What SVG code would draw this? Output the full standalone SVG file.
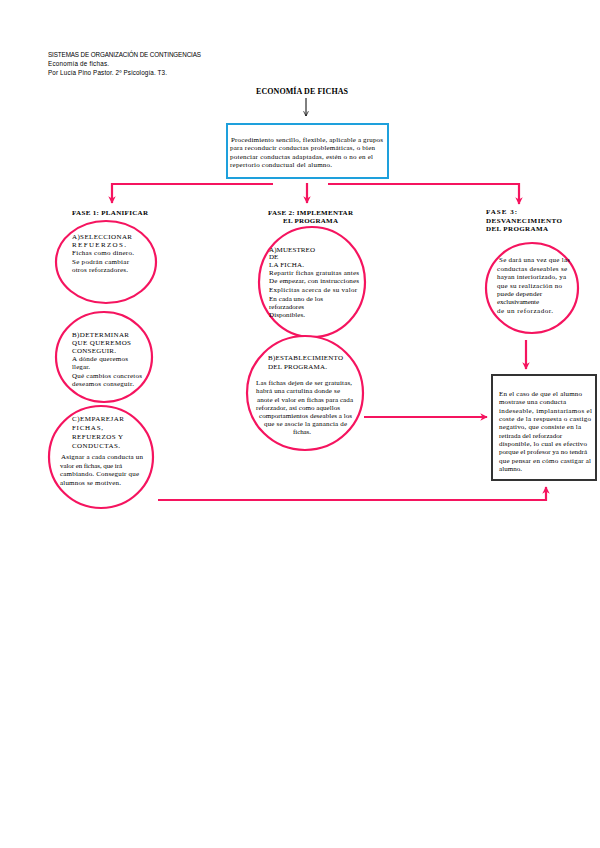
<svg xmlns="http://www.w3.org/2000/svg" width="600" height="848" viewBox="0 0 600 848">
<defs>
<style>
.hdr{font-family:"Liberation Sans","DejaVu Sans",sans-serif;font-size:6.3px;fill:#000}
.ttl{font-family:"Liberation Serif","DejaVu Serif",serif;font-size:8px;font-weight:bold;fill:#000}
.lbl{font-family:"Liberation Serif","DejaVu Serif",serif;font-size:7px;font-weight:bold;fill:#000}
.t{font-family:"Liberation Serif","DejaVu Serif",serif;font-size:7px;fill:#000}
.circ{fill:#fff;stroke:#f5145f;stroke-width:2.2}
.pk{fill:none;stroke:#f5145f;stroke-width:2.2}
</style>
<marker id="ah" viewBox="0 0 10 10" refX="9" refY="5" markerWidth="3.4" markerHeight="3.4" orient="auto" markerUnits="strokeWidth">
<path d="M0,0 L10,5 L0,10 L3,5 Z" fill="#f5145f"/>
</marker>
<marker id="bk" viewBox="0 0 10 10" refX="9" refY="5" markerWidth="6" markerHeight="6" orient="auto" markerUnits="strokeWidth">
<path d="M1,1 L9,5 L1,9" fill="none" stroke="#000" stroke-width="1.2"/>
</marker>
</defs>
<rect width="600" height="848" fill="#fff"/>

<g id="header">
<text class="hdr" x="48" y="57" textLength="153" lengthAdjust="spacing">SISTEMAS DE ORGANIZACIÓN DE CONTINGENCIAS</text>
<text class="hdr" x="48" y="66" textLength="61" lengthAdjust="spacing">Economía de fichas.</text>
<text class="hdr" x="48" y="75" textLength="119" lengthAdjust="spacing">Por Lucía Pino Pastor. 2º Psicología. T3.</text>
</g>

<g id="title">
<text class="ttl" x="256" y="94" textLength="92" lengthAdjust="spacing">ECONOMÍA DE FICHAS</text>
</g>

<g id="connectors">
<line x1="306" y1="98" x2="306" y2="116" stroke="#000" stroke-width="1" marker-end="url(#bk)"/>
<path class="pk" d="M273,184 H112 V203" marker-end="url(#ah)"/>
<path class="pk" d="M307,183 V203" marker-end="url(#ah)"/>
<path class="pk" d="M328,184 H519 V204" marker-end="url(#ah)"/>
<path class="pk" d="M526,340 V369" marker-end="url(#ah)"/>
<path class="pk" d="M364,417 H487" marker-end="url(#ah)"/>
<path class="pk" d="M158,500 H546 V487" marker-end="url(#ah)"/>
</g>

<g id="intro">
<rect x="227" y="124" width="161" height="54" fill="#fff" stroke="#1ea0dc" stroke-width="2"/>
<text class="t" x="231" y="142" textLength="152" lengthAdjust="spacing">Procedimiento sencillo, flexible, aplicable a grupos</text>
<text class="t" x="230" y="150" textLength="145" lengthAdjust="spacing">para reconducir conductas problemáticas, o bien</text>
<text class="t" x="230" y="159" textLength="143" lengthAdjust="spacing">potenciar conductas adaptadas, estén o no en el</text>
<text class="t" x="230" y="167" textLength="102" lengthAdjust="spacing">repertorio conductual del alumno.</text>
</g>

<g id="fase1">
<text class="lbl" x="72" y="215" textLength="76" lengthAdjust="spacing">FASE 1: PLANIFICAR</text>
</g>

<g id="nodeA1">
<ellipse class="circ" cx="106" cy="262" rx="50" ry="41"/>
<text class="t" x="72" y="239" textLength="60" lengthAdjust="spacing">A)SELECCIONAR</text>
<text class="t" x="72" y="247" textLength="54" lengthAdjust="spacing">REFUERZOS.</text>
<text class="t" x="72" y="255" textLength="62" lengthAdjust="spacing">Fichas como dinero.</text>
<text class="t" x="72" y="264" textLength="57" lengthAdjust="spacing">Se podrán cambiar</text>
<text class="t" x="72" y="272" textLength="56" lengthAdjust="spacing">otros reforzadores.</text>
</g>

<g id="nodeB1">
<ellipse class="circ" cx="104" cy="357" rx="48" ry="45"/>
<text class="t" x="72" y="337" textLength="57" lengthAdjust="spacing">B)DETERMINAR</text>
<text class="t" x="72" y="345" textLength="59" lengthAdjust="spacing">QUE QUEREMOS</text>
<text class="t" x="72" y="353" textLength="44" lengthAdjust="spacing">CONSEGUIR.</text>
<text class="t" x="72" y="361" textLength="56" lengthAdjust="spacing">A dónde queremos</text>
<text class="t" x="72" y="369" textLength="18" lengthAdjust="spacing">llegar.</text>
<text class="t" x="72" y="378" textLength="70" lengthAdjust="spacing">Qué cambios concretos</text>
<text class="t" x="72" y="386" textLength="62" lengthAdjust="spacing">deseamos conseguir.</text>
</g>

<g id="nodeC1">
<ellipse class="circ" cx="101" cy="457" rx="52" ry="51"/>
<text class="t" x="72" y="421" textLength="52" lengthAdjust="spacing">C)EMPAREJAR</text>
<text class="t" x="72" y="430" textLength="31" lengthAdjust="spacing">FICHAS,</text>
<text class="t" x="72" y="439" textLength="51" lengthAdjust="spacing">REFUERZOS Y</text>
<text class="t" x="72" y="448" textLength="48" lengthAdjust="spacing">CONDUCTAS.</text>
<text class="t" x="61" y="459" textLength="82" lengthAdjust="spacing">Asignar a cada conducta un</text>
<text class="t" x="60" y="468" textLength="62" lengthAdjust="spacing">valor en fichas, que irá</text>
<text class="t" x="60" y="476" textLength="79" lengthAdjust="spacing">cambiando. Conseguir que</text>
<text class="t" x="60" y="485" textLength="61" lengthAdjust="spacing">alumnos se motiven.</text>
</g>

<g id="fase2">
<text class="lbl" x="268" y="215" textLength="85" lengthAdjust="spacing">FASE 2: IMPLEMENTAR</text>
<text class="lbl" x="283" y="223" textLength="55" lengthAdjust="spacing">EL PROGRAMA</text>
</g>

<g id="nodeA2">
<ellipse class="circ" cx="312" cy="282" rx="53" ry="55"/>
<text class="t" x="269" y="252" textLength="46" lengthAdjust="spacing">A)MUESTREO</text>
<text class="t" x="269" y="259">DE</text>
<text class="t" x="269" y="267" textLength="35" lengthAdjust="spacing">LA FICHA.</text>
<text class="t" x="269" y="275" textLength="90" lengthAdjust="spacing">Repartir fichas gratuitas antes</text>
<text class="t" x="269" y="283" textLength="90" lengthAdjust="spacing">De empezar, con instrucciones</text>
<text class="t" x="269" y="292" textLength="88" lengthAdjust="spacing">Explícitas acerca de su valor</text>
<text class="t" x="269" y="301" textLength="54" lengthAdjust="spacing">En cada uno de los</text>
<text class="t" x="269" y="309" textLength="35" lengthAdjust="spacing">reforzadores</text>
<text class="t" x="269" y="317" textLength="36" lengthAdjust="spacing">Disponibles.</text>
</g>

<g id="nodeB2">
<ellipse class="circ" cx="305" cy="393" rx="58" ry="57"/>
<text class="t" x="268" y="360" textLength="75" lengthAdjust="spacing">B)ESTABLECIMIENTO</text>
<text class="t" x="268" y="369" textLength="59" lengthAdjust="spacing">DEL PROGRAMA.</text>
<text class="t" x="256" y="385" textLength="96" lengthAdjust="spacing">Las fichas dejen de ser gratuitas,</text>
<text class="t" x="256" y="393" textLength="84" lengthAdjust="spacing">habrá una cartulina donde se</text>
<text class="t" x="257" y="402" textLength="96" lengthAdjust="spacing">anote el valor en fichas para cada</text>
<text class="t" x="256" y="410" textLength="84" lengthAdjust="spacing">reforzador, así como aquellos</text>
<text class="t" x="259" y="418" textLength="93" lengthAdjust="spacing">comportamientos deseables a los</text>
<text class="t" x="264" y="426" textLength="83" lengthAdjust="spacing">que se asocie la ganancia de</text>
<text class="t" x="293" y="434" textLength="18" lengthAdjust="spacing">fichas.</text>
</g>

<g id="fase3">
<text class="lbl" x="486" y="214" textLength="31" lengthAdjust="spacing">FASE 3:</text>
<text class="lbl" x="486" y="223" textLength="76" lengthAdjust="spacing">DESVANECIMIENTO</text>
<text class="lbl" x="486" y="231" textLength="62" lengthAdjust="spacing">DEL PROGRAMA</text>
</g>

<g id="nodeA3">
<ellipse class="circ" cx="532" cy="288" rx="46" ry="45"/>
<text class="t" x="499" y="262" textLength="71" lengthAdjust="spacing">Se dará una vez que las</text>
<text class="t" x="497" y="271" textLength="70" lengthAdjust="spacing">conductas deseables se</text>
<text class="t" x="497" y="279" textLength="69" lengthAdjust="spacing">hayan interiorizado, ya</text>
<text class="t" x="497" y="288" textLength="65" lengthAdjust="spacing">que su realización no</text>
<text class="t" x="497" y="296" textLength="45" lengthAdjust="spacing">puede depender</text>
<text class="t" x="497" y="304" textLength="42" lengthAdjust="spacing">exclusivamente</text>
<text class="t" x="497" y="313" textLength="56" lengthAdjust="spacing">de un reforzador.</text>
</g>

<g id="box">
<rect x="492" y="375" width="104" height="105" fill="#fff" stroke="#333" stroke-width="2"/>
<text class="t" x="499" y="396" textLength="83" lengthAdjust="spacing">En el caso de que el alumno</text>
<text class="t" x="499" y="404" textLength="67" lengthAdjust="spacing">mostrase una conducta</text>
<text class="t" x="499" y="413" textLength="93" lengthAdjust="spacing">indeseable, implantaríamos el</text>
<text class="t" x="499" y="421" textLength="92" lengthAdjust="spacing">coste de la respuesta o castigo</text>
<text class="t" x="499" y="429" textLength="82" lengthAdjust="spacing">negativo, que consiste en la</text>
<text class="t" x="499" y="438" textLength="63" lengthAdjust="spacing">retirada del reforzador</text>
<text class="t" x="499" y="446" textLength="88" lengthAdjust="spacing">disponible, lo cual es efectivo</text>
<text class="t" x="499" y="454" textLength="88" lengthAdjust="spacing">porque el profesor ya no tendrá</text>
<text class="t" x="499" y="463" textLength="92" lengthAdjust="spacing">que pensar en cómo castigar al</text>
<text class="t" x="499" y="471" textLength="23" lengthAdjust="spacing">alumno.</text>
</g>
</svg>
